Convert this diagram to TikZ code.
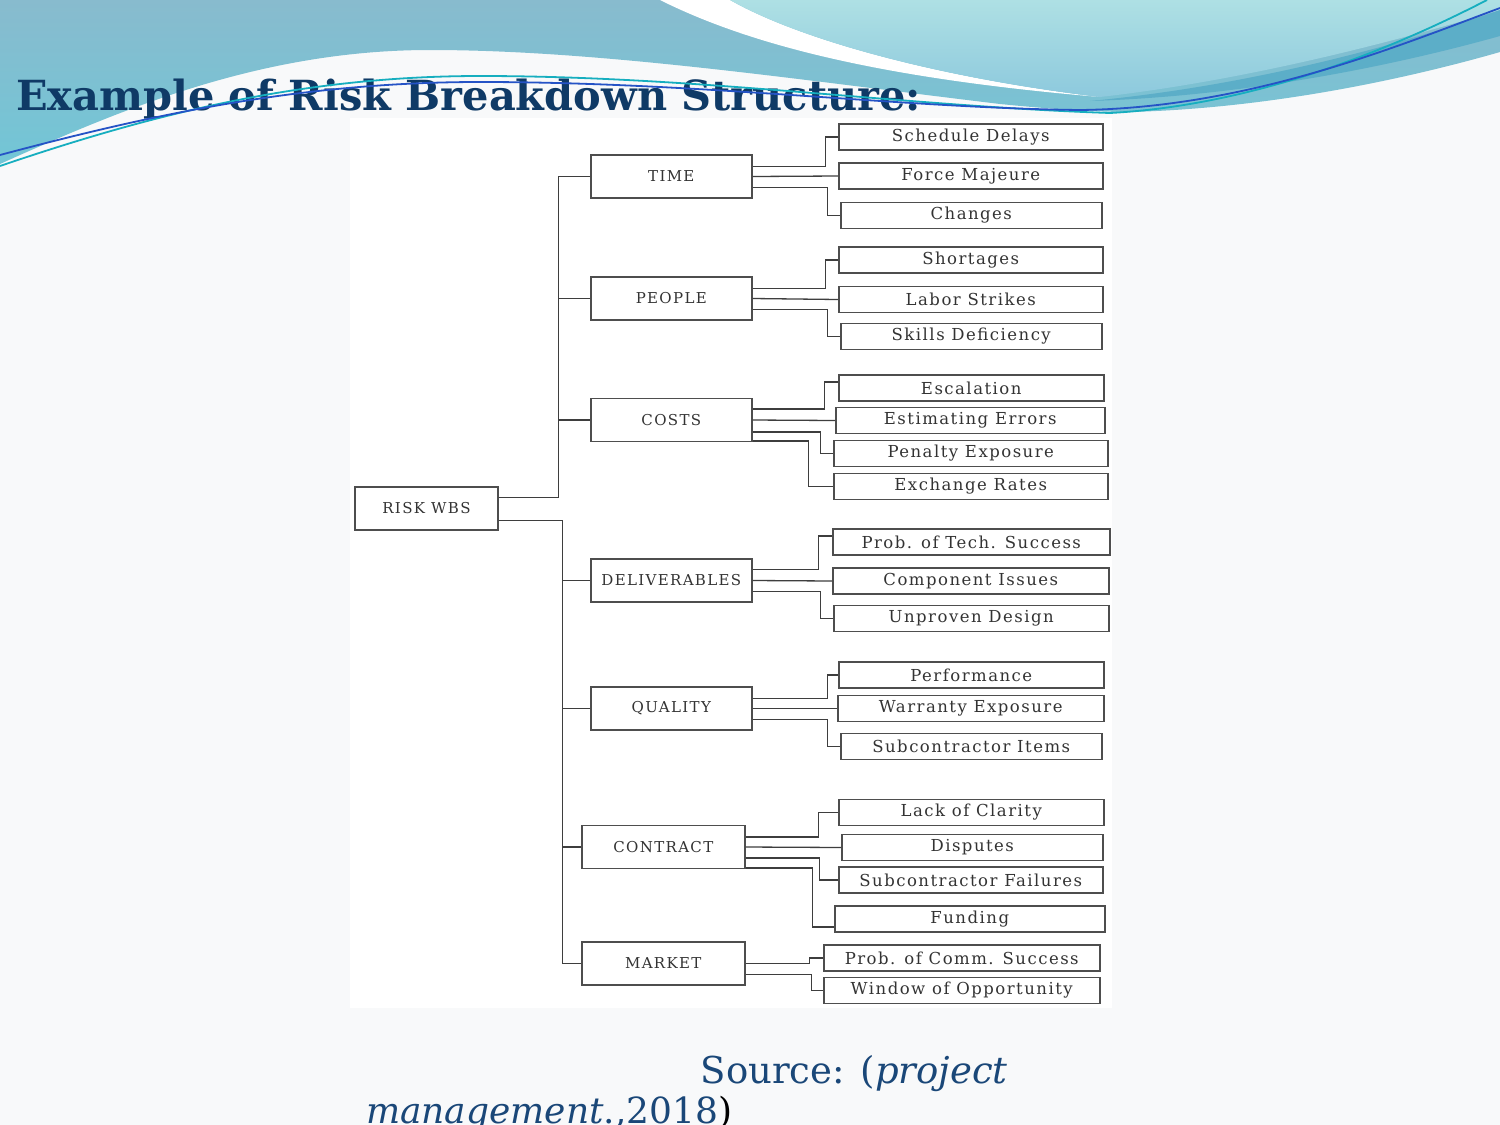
\documentclass[tikz,border=0pt]{standalone}
\usepackage{fontspec}
\setmainfont{DejaVu Serif}
\newfontfamily\boxfont[LetterSpace=9]{DejaVu Serif}
\usepackage{xcolor}

\definecolor{slidebg}{HTML}{F8F9FA}
\definecolor{wavetop}{HTML}{88BBCE}
\definecolor{wavebot}{HTML}{72C6D6}
\definecolor{lighttop}{HTML}{AEE0E4}
\definecolor{lightbot}{HTML}{8DC9DD}
\definecolor{stripe}{HTML}{5CAEC8}
\definecolor{linecyan}{HTML}{16AEBF}
\definecolor{lineblue}{HTML}{2553C6}
\definecolor{titlenavy}{HTML}{0F3A66}
\definecolor{sourcenavy}{HTML}{1A4778}
\definecolor{boxgray}{HTML}{4E4E4E}
\definecolor{linkgray}{HTML}{3E3E3E}
\definecolor{boxtext}{HTML}{333333}

\begin{document}
\begin{tikzpicture}[
    x=1pt, y=-1pt,
    rootbox/.style={rectangle, draw=boxgray, fill=white, line width=1.6pt, inner sep=0pt, minimum width=143pt, minimum height=43pt, text=boxtext, font=\boxfont\fontsize{15}{17}\selectfont},
    topbox/.style={rectangle, draw=boxgray, fill=white, line width=1.6pt, inner sep=0pt, minimum width=#1, minimum height=43pt, anchor=west, text=boxtext, font=\boxfont\fontsize{15}{17}\selectfont},
    leaf/.style={rectangle, draw=boxgray, fill=white, line width=1.5pt, inner sep=0pt, minimum width=#1, minimum height=26pt, anchor=west, text=boxtext, font=\boxfont\fontsize{16.5}{18}\selectfont},
    link/.style={draw=linkgray, line width=1.3pt}
]

% Slide background and frame
\useasboundingbox (0,0) rectangle (1500,1125);
\fill[slidebg] (0,0) rectangle (1500,1125);

% Waves at the top
\shade[top color=wavetop, bottom color=wavebot]
    (0,0) -- (0,164) .. controls (120,110) and (260,50) .. (430,50)
    .. controls (600,50) and (800,80) .. (1000,104)
    .. controls (1060,110) and (1100,112) .. (1130,112)
    .. controls (1280,108) and (1420,75) .. (1500,52) -- (1500,0) -- cycle;
\fill[white] (660,0) .. controls (760,50) and (900,80) .. (1100,97)
    .. controls (940,78) and (800,40) .. (730,0) -- cycle;
\shade[top color=lighttop, bottom color=lightbot]
    (730,0) .. controls (800,40) and (940,78) .. (1100,97)
    .. controls (1250,80) and (1400,40) .. (1500,10) -- (1500,0) -- cycle;
\fill[stripe] (1090,101) .. controls (1250,86) and (1400,45) .. (1500,10)
    -- (1500,36) .. controls (1400,64) and (1250,96) .. (1090,101) -- cycle;

% Title
\node[anchor=base west, inner sep=0pt, text=titlenavy, font=\bfseries\fontsize{41.5}{46}\selectfont] (title) at (16,110) {Example of Risk Breakdown Structure:};

% Thin lines over the waves
\draw[linecyan, line width=1.8pt] (0,166) .. controls (150,115) and (300,76) .. (480,76)
    .. controls (700,76) and (900,106) .. (1110,113)
    .. controls (1260,105) and (1400,45) .. (1487,0);
\draw[lineblue, line width=1.8pt] (0,155) .. controls (150,115) and (300,82) .. (480,82)
    .. controls (700,82) and (900,108) .. (1080,110)
    .. controls (1250,108) and (1400,45) .. (1500,8);

% Diagram panel
\fill[white] (350,118) rectangle (1112,1008);

% Root
\node[rootbox] (root) at (426.5,508.5) {RISK WBS};

% Level one
\node[topbox=161pt] (time) at (590,176.5) {TIME};
\node[topbox=161pt] (people) at (590,298.5) {PEOPLE};
\node[topbox=161pt] (costs) at (590,420) {COSTS};
\node[topbox=161pt] (deliv) at (590,580.5) {DELIVERABLES};
\node[topbox=161pt] (quality) at (590,708.5) {QUALITY};
\node[topbox=163pt] (contract) at (581,847) {CONTRACT};
\node[topbox=163pt] (market) at (581,963.5) {MARKET};

% Leaves
\node[leaf=264pt] (sched) at (838,137) {Schedule Delays};
\node[leaf=264pt] (force) at (838,176) {Force Majeure};
\node[leaf=261pt] (changes) at (840,215.5) {Changes};

\node[leaf=264pt] (short) at (838,260) {Shortages};
\node[leaf=264pt] (labor) at (838,299.5) {Labor Strikes};
\node[leaf=261pt] (skills) at (840,336.5) {Skills Deficiency};

\node[leaf=265pt] (escal) at (838,388) {Escalation};
\node[leaf=269pt] (estim) at (835,420.5) {Estimating Errors};
\node[leaf=274pt] (penalty) at (833,453.5) {Penalty Exposure};
\node[leaf=274pt] (exch) at (833,486.5) {Exchange Rates};

\node[leaf=277pt] (probtech) at (832,542) {Prob. of Tech. Success};
\node[leaf=276pt] (compon) at (832,581) {Component Issues};
\node[leaf=275pt] (unproven) at (833,618.5) {Unproven Design};

\node[leaf=265pt] (perf) at (838,675) {Performance};
\node[leaf=266pt] (warranty) at (837,708.5) {Warranty Exposure};
\node[leaf=261pt] (subitems) at (840,746.5) {Subcontractor Items};

\node[leaf=265pt] (lack) at (838,812.5) {Lack of Clarity};
\node[leaf=261pt] (disputes) at (841,847.5) {Disputes};
\node[leaf=264pt] (subfail) at (838,880) {Subcontractor Failures};
\node[leaf=270pt] (funding) at (834,919) {Funding};

\node[leaf=276pt] (probcomm) at (823,958) {Prob. of Comm. Success};
\node[leaf=276pt] (window) at (823,990.5) {Window of Opportunity};

% Trunk from the root
\draw[link] ([yshift=11pt]root.east) -- ++(60,0) |- (time.west);
\draw[link] ([yshift=11pt]root.east) -- ++(60,0) |- (people.west);
\draw[link] ([yshift=11pt]root.east) -- ++(60,0) |- (costs.west);
\draw[link] ([yshift=-12pt]root.east) -- ++(64,0) |- (deliv.west);
\draw[link] ([yshift=-12pt]root.east) -- ++(64,0) |- (quality.west);
\draw[link] ([yshift=-12pt]root.east) -- ++(64,0) |- (contract.west);
\draw[link] ([yshift=-12pt]root.east) -- ++(64,0) |- (market.west);

% Time
\draw[link] ([yshift=10pt]time.east) -- ++(73,0) |- (sched.west);
\draw[link] (time.east) -- (force.west);
\draw[link] ([yshift=-11pt]time.east) -- ++(75,0) |- (changes.west);

% People
\draw[link] ([yshift=10pt]people.east) -- ++(73,0) |- (short.west);
\draw[link] (people.east) -- (labor.west);
\draw[link] ([yshift=-11pt]people.east) -- ++(75,0) |- (skills.west);

% Costs
\draw[link] ([yshift=11pt]costs.east) -- ++(72,0) |- ([yshift=6pt]escal.west);
\draw[link] (costs.east) -- (estim.west);
\draw[link] ([yshift=-12pt]costs.east) -- ++(68,0) |- (penalty.west);
\draw[link] ([yshift=-21pt]costs.east) -- ++(56,0) |- (exch.west);

% Deliverables
\draw[link] ([yshift=11pt]deliv.east) -- ++(66,0) |- ([yshift=6pt]probtech.west);
\draw[link] (deliv.east) -- (compon.west);
\draw[link] ([yshift=-11pt]deliv.east) -- ++(68,0) |- (unproven.west);

% Quality
\draw[link] ([yshift=10pt]quality.east) -- ++(75,0) |- (perf.west);
\draw[link] (quality.east) -- (warranty.west);
\draw[link] ([yshift=-11pt]quality.east) -- ++(75,0) |- (subitems.west);

% Contract
\draw[link] ([yshift=10pt]contract.east) -- ++(73,0) |- (lack.west);
\draw[link] (contract.east) -- (disputes.west);
\draw[link] ([yshift=-11pt]contract.east) -- ++(74,0) |- (subfail.west);
\draw[link] ([yshift=-21pt]contract.east) -- ++(67,0) |- ([yshift=-8pt]funding.west);

% Market
\draw[link] (market.east) -- ++(64,0) |- (probcomm.west);
\draw[link] ([yshift=-11pt]market.east) -- ++(66,0) |- (window.west);

% Source
\node[anchor=base east, inner sep=0pt, text=sourcenavy, font=\fontsize{37}{40}\selectfont] (src1) at (1008,1083) {Source: (\textit{project}};
\node[anchor=base west, inner sep=0pt, text=sourcenavy, font=\fontsize{36}{40}\selectfont] (src2) at (366,1123) {\textit{management}.,2018\textcolor{black}{)}};

\end{tikzpicture}
\end{document}
